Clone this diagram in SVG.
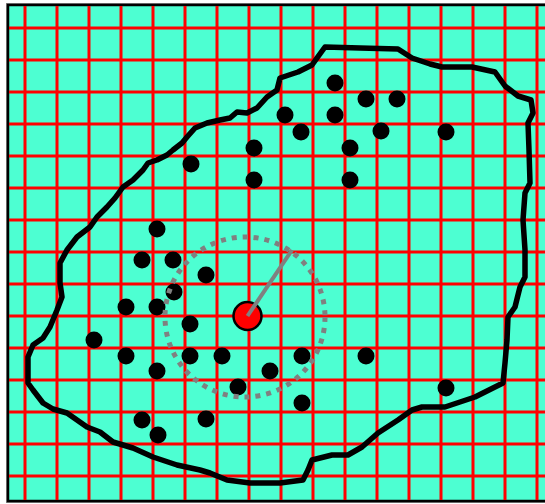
<svg xmlns="http://www.w3.org/2000/svg" width="545" height="504" viewBox="0 0 545 504">
<style>
.grid line{stroke:#ff0000;stroke-width:3}
.dot{fill:#000}
</style>
<rect x="0" y="0" width="545" height="504" fill="#ffffff"/>
<rect x="8" y="5" width="545" height="496" fill="#4dffd2" stroke="#888" stroke-width="4"/>
<rect x="8" y="5" width="545" height="496" fill="#4dffd2" stroke="#000" stroke-width="2.5"/>
<g class="grid">
<line x1="25" y1="6" x2="25" y2="500"/><line x1="57" y1="6" x2="57" y2="500"/><line x1="89" y1="6" x2="89" y2="500"/><line x1="121" y1="6" x2="121" y2="500"/><line x1="153" y1="6" x2="153" y2="500"/><line x1="185" y1="6" x2="185" y2="500"/><line x1="217" y1="6" x2="217" y2="500"/><line x1="249" y1="6" x2="249" y2="500"/><line x1="281" y1="6" x2="281" y2="500"/><line x1="313" y1="6" x2="313" y2="500"/><line x1="345" y1="6" x2="345" y2="500"/><line x1="377" y1="6" x2="377" y2="500"/><line x1="409" y1="6" x2="409" y2="500"/><line x1="441" y1="6" x2="441" y2="500"/><line x1="473" y1="6" x2="473" y2="500"/><line x1="505" y1="6" x2="505" y2="500"/><line x1="537" y1="6" x2="537" y2="500"/>
<line x1="9" y1="28" x2="545" y2="28"/><line x1="9" y1="60" x2="545" y2="60"/><line x1="9" y1="92" x2="545" y2="92"/><line x1="9" y1="124" x2="545" y2="124"/><line x1="9" y1="156" x2="545" y2="156"/><line x1="9" y1="188" x2="545" y2="188"/><line x1="9" y1="220" x2="545" y2="220"/><line x1="9" y1="252" x2="545" y2="252"/><line x1="9" y1="284" x2="545" y2="284"/><line x1="9" y1="316" x2="545" y2="316"/><line x1="9" y1="348" x2="545" y2="348"/><line x1="9" y1="380" x2="545" y2="380"/><line x1="9" y1="412" x2="545" y2="412"/><line x1="9" y1="444" x2="545" y2="444"/><line x1="9" y1="476" x2="545" y2="476"/>
</g>
<g id="outline">
<path d="M325,47 L360,48 L398,49 L412,58 L430,64 L442,67 L472,67 L495,72 L505,86 L518,96 L531,100 L533,113 L528,123 L529,150 L530,183 L525,193 L523,220 L525,250 L525,277 L520,287 L515,307 L508,317 L507,340 L505,363 L503,383 L475,397 L445,407 L422,407 L412,410 L398,420 L378,433 L362,447 L348,455 L332,455 L312,460 L308,470 L303,480 L280,483 L250,483 L227,480 L210,473 L200,470 L177,465 L153,457 L133,448 L113,442 L100,432 L87,427 L67,413 L53,409 L43,403 L33,390 L28,383 L28,357 L33,345 L43,338 L50,327 L57,310 L62,297 L60,283 L60,263 L67,250 L77,237 L90,227 L97,217 L107,207 L115,198 L123,187 L133,180 L143,170 L148,163 L157,160 L167,155 L173,150 L182,143 L187,137 L195,128 L207,123 L220,120 L230,118 L237,112 L247,113 L257,108 L267,97 L277,90 L280,78 L298,72 L312,65 L317,58 Z" fill="none" stroke="#000" stroke-width="5.5" stroke-linejoin="round" stroke-linecap="round"/>
</g>
<g id="dots">
<circle class="dot" cx="335" cy="83" r="8.5"/><circle class="dot" cx="366" cy="99" r="8.5"/><circle class="dot" cx="397" cy="99" r="8.5"/><circle class="dot" cx="285" cy="115" r="8.5"/><circle class="dot" cx="335" cy="115" r="8.5"/><circle class="dot" cx="301" cy="132" r="8.5"/><circle class="dot" cx="381" cy="131" r="8.5"/><circle class="dot" cx="446" cy="132" r="8.5"/><circle class="dot" cx="254" cy="148" r="8.5"/><circle class="dot" cx="350" cy="148" r="8.5"/><circle class="dot" cx="191" cy="164" r="8.5"/><circle class="dot" cx="254" cy="180" r="8.5"/><circle class="dot" cx="350" cy="180" r="8.5"/>
<circle class="dot" cx="157" cy="229" r="8.5"/><circle class="dot" cx="142" cy="260" r="8.5"/><circle class="dot" cx="173" cy="260" r="8.5"/><circle class="dot" cx="206" cy="275" r="8.5"/><circle class="dot" cx="174" cy="292" r="8.5"/><circle class="dot" cx="126" cy="307" r="8.5"/><circle class="dot" cx="157" cy="307" r="8.5"/><circle class="dot" cx="190" cy="324" r="8.5"/><circle class="dot" cx="94" cy="340" r="8.5"/><circle class="dot" cx="126" cy="356" r="8.5"/><circle class="dot" cx="190" cy="356" r="8.5"/><circle class="dot" cx="222" cy="356" r="8.5"/><circle class="dot" cx="157" cy="371" r="8.5"/><circle class="dot" cx="270" cy="371" r="8.5"/><circle class="dot" cx="238" cy="387" r="8.5"/><circle class="dot" cx="142" cy="420" r="8.5"/><circle class="dot" cx="206" cy="419" r="8.5"/><circle class="dot" cx="158" cy="435" r="8.5"/>
<circle class="dot" cx="302" cy="356" r="8.5"/><circle class="dot" cx="366" cy="356" r="8.5"/><circle class="dot" cx="302" cy="403" r="8.5"/><circle class="dot" cx="446" cy="388" r="8.5"/>
</g>
<g id="range">
<circle cx="245" cy="317" r="80" fill="none" stroke="#808080" stroke-width="5" stroke-dasharray="5,6"/>
</g>
<g id="center">
<circle cx="247.5" cy="316" r="14" fill="#ff0000" stroke="#000" stroke-width="2.5"/>
<line x1="247.5" y1="316" x2="292" y2="250" stroke="#808080" stroke-width="4"/>
</g>
</svg>
